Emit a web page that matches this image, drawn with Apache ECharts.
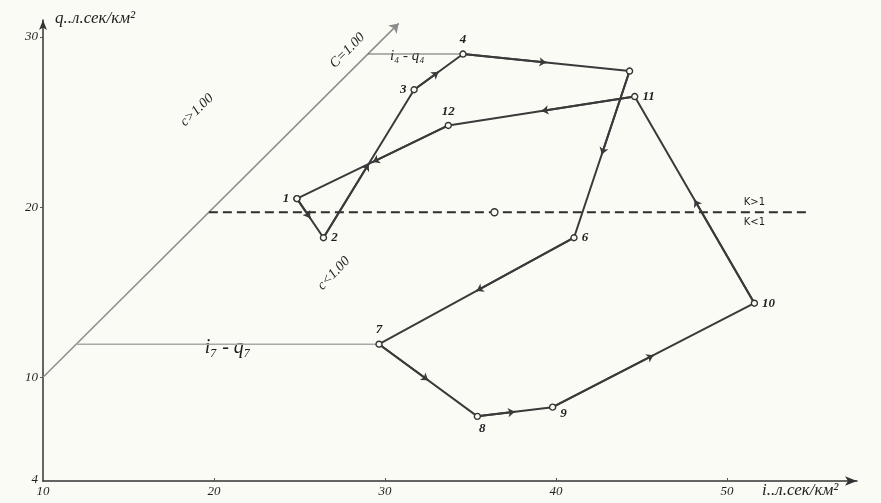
<!DOCTYPE html>
<html><head><meta charset="utf-8">
<script src="https://cdn.jsdelivr.net/npm/echarts@6/dist/echarts.min.js"></script>
<style>html,body{margin:0;padding:0;background:#fbfbf6}#c{width:881px;height:503px}</style>
</head><body><div id="c"></div>
<script>
// hysteresis loop points (i, q), in order 1..12
const pointNames = ['1','2','3','4','','6','7','8','9','10','11','12'];
const iValues = [24.85, 26.4, 31.7, 34.56, 44.3, 41.05, 29.65, 35.4, 39.8, 51.6, 44.6, 33.7];
const qValues = [20.5, 18.2, 26.9, 29.0, 28.0, 18.2, 11.94, 7.7, 8.24, 14.35, 26.5, 24.8];
const labelPos = ['left','right','left','top','top','right','top','bottom','right','right','right','top'];
// axes
const xTickLabels = [10, 20, 30, 40, 50];
const yTickLabels = [4, 10, 20, 30];
// c = 1.00 line (q = i)
const cLineEnds = [10, 30.8];
// K = 1 dashed line
const kLevel = 19.7, kFrom = 19.7, kTo = 54.7, kMarkI = 36.4;
// annotations: text, i, q, rotation
const annTexts = ['C=1.00', 'c>1.00', 'c<1.00', 'K>1', 'K<1'];
const annI = [27.8, 19.0, 27.0, 51.6, 51.6];
const annQ = [29.2, 25.7, 16.1, 20.25, 19.1];
const annRot = [45, 44, 46, 0, 0];
// helper-line labels
const helperTexts = ['i₇ - q₇', 'i₄ - q₄'];
const helperI = [20.8, 31.3];

const BG = '#fbfbf6', INK = '#3a3a3a', TXT = '#1e1e1e';
const serif = 'Liberation Serif';
const pts = iValues.map((x, k) => [x, qValues[k]]);
const loop = pts.concat([pts[0]]);
const arrowSegs = pts.map((p, k) => {
  const n = pts[(k + 1) % pts.length];
  return { coords: [p, [(p[0] + n[0]) / 2, (p[1] + n[1]) / 2]] };
});
const labelOffsets = {7: [5, -2], 8: [0, 6]};

const chart = echarts.init(document.getElementById('c'), null, {renderer: 'canvas'});
chart.setOption({
  animation: false,
  backgroundColor: BG,
  grid: {left: 43, right: 24, top: 20, bottom: 22},
  xAxis: {
    type: 'value', min: 10, max: 57.6,
    name: 'i..л.сек/км²', nameLocation: 'end', nameGap: -95,
    nameTextStyle: {fontFamily: serif, fontStyle: 'italic', fontSize: 17, color: TXT, verticalAlign: 'top', align: 'left', padding: [1, 0, 0, 0]},
    axisLine: {show: true, symbol: ['none', 'arrow'], symbolSize: [7, 12], lineStyle: {color: '#333', width: 1.5}},
    axisTick: {show: true, inside: true, length: 3, customValues: xTickLabels.slice(1), lineStyle: {color: '#555'}},
    axisLabel: {customValues: xTickLabels, fontFamily: serif, fontStyle: 'italic', fontSize: 13, color: TXT, margin: 4},
    splitLine: {show: false}
  },
  yAxis: {
    type: 'value', min: 3.9, max: 31,
    name: 'q..л.сек/км²', nameLocation: 'end', nameGap: 1,
    nameTextStyle: {fontFamily: serif, fontStyle: 'italic', fontSize: 17, color: TXT, align: 'left', verticalAlign: 'middle', padding: [0, 0, 0, 12]},
    axisLine: {show: true, symbol: ['none', 'arrow'], symbolSize: [6, 10], lineStyle: {color: '#333', width: 1.5}},
    axisTick: {show: true, length: 3, customValues: yTickLabels.slice(1), lineStyle: {color: '#555'}},
    axisLabel: {customValues: yTickLabels, fontFamily: serif, fontStyle: 'italic', fontSize: 13, color: TXT, margin: 5},
    splitLine: {show: false}
  },
  series: [
    { // c = 1.00 line
      type: 'lines', coordinateSystem: 'cartesian2d', silent: true,
      symbol: ['none', 'arrow'], symbolSize: 9,
      lineStyle: {color: '#8c8c8c', width: 1.5, opacity: 1},
      data: [{coords: [[cLineEnds[0], cLineEnds[0]], [cLineEnds[1], cLineEnds[1]]]}]
    },
    { // i7 - q7 helper
      type: 'line', silent: true, symbol: 'none',
      lineStyle: {color: '#a8a8a8', width: 1.5},
      data: [[qValues[6], qValues[6]], [iValues[6], qValues[6]]]
    },
    { // i4 - q4 helper
      type: 'line', silent: true, symbol: 'none',
      lineStyle: {color: '#666', width: 1.2},
      data: [[qValues[3], qValues[3]], [iValues[3], qValues[3]]]
    },
    { // K = 1 dashed line
      type: 'line', silent: true, symbol: 'none',
      lineStyle: {color: '#2e2e2e', width: 2, type: [9, 5]},
      data: [[kFrom, kLevel], [kTo, kLevel]]
    },
    { // mark on K line
      type: 'scatter', silent: true, symbol: 'circle', symbolSize: 7, z: 5,
      itemStyle: {color: BG, borderColor: '#333', borderWidth: 1.3, opacity: 1},
      data: [[kMarkI, kLevel]]
    },
    { // helper labels with gaps
      type: 'scatter', silent: true, symbolSize: 0,
      itemStyle: {opacity: 1},
      data: [
        {value: [helperI[0], qValues[6]], label: {show: true, position: 'inside', formatter: helperTexts[0], fontFamily: serif, fontStyle: 'italic', color: TXT, backgroundColor: BG, padding: [0, 6], fontSize: 20, offset: [0, 4]}},
        {value: [helperI[1], qValues[3]], label: {show: true, position: 'inside', formatter: helperTexts[1], fontFamily: serif, fontStyle: 'italic', color: TXT, backgroundColor: BG, padding: [0, 3], fontSize: 15, offset: [0, 2]}}
      ]
    },
    { // text annotations
      type: 'scatter', silent: true, symbolSize: 0,
      itemStyle: {opacity: 1},
      data: annTexts.map((t, k) => ({
        value: [annI[k], annQ[k]],
        label: {
          show: true, position: 'inside', formatter: t, rotate: annRot[k],
          fontFamily: annRot[k] ? serif : 'DejaVu Sans',
          fontStyle: annRot[k] ? 'italic' : 'normal',
          fontSize: annRot[k] ? 14 : 10, color: TXT
        }
      }))
    },
    { // direction arrows
      type: 'lines', coordinateSystem: 'cartesian2d', silent: true,
      symbol: ['none', 'arrow'], symbolSize: 7,
      lineStyle: {color: INK, width: 2, opacity: 1},
      data: arrowSegs
    },
    { // the loop
      type: 'line', silent: true,
      symbol: 'circle', symbolSize: 6,
      itemStyle: {color: BG, borderColor: '#333', borderWidth: 1.4},
      lineStyle: {color: INK, width: 2},
      data: loop.map((p, k) => ({
        value: p,
        label: {
          show: k < pointNames.length && pointNames[k] !== '',
          formatter: pointNames[k % pointNames.length],
          position: labelPos[k % pointNames.length],
          offset: labelOffsets[k] || [0, 0],
          distance: 4,
          fontFamily: serif, fontStyle: 'italic', fontWeight: 'bold', fontSize: 13, color: TXT
        }
      }))
    }
  ]
});
</script></body></html>
